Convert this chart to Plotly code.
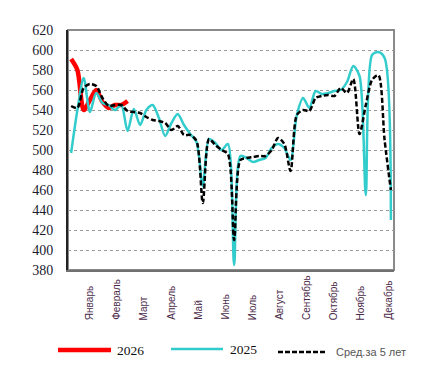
import plotly.graph_objects as go

weeks = list(range(1, 53))

y2026 = [591, 580, 540, 550, 560, 548, 542, 545, 545, 549]

y2025 = [497, 540, 572, 538, 557, 547, 545, 540, 545, 519,
         541, 525, 540, 545, 532, 514, 527, 536, 525, 516,
         508, 464, 511, 507, 500, 506, 385, 494, 492, 488,
         490, 492, 502, 506, 502, 490, 535, 552, 542, 559,
         556, 557, 559, 560, 568, 584, 574, 455, 595, 598,
         592, 430]

y5yr = [544, 542, 562, 566, 564, 552, 544, 545, 545, 539,
        538, 537, 533, 530, 529, 527, 520, 524, 515, 515,
        509, 447, 511, 505, 500, 496, 410, 490, 492, 493,
        494, 494, 500, 512, 506, 479, 535, 540, 539, 552,
        554, 555, 554, 562, 557, 571, 516, 545, 570, 575,
        510, 460]

months = ["Январь", "Февраль", "Март", "Апрель", "Май", "Июнь",
          "Июль", "Август", "Сентябрь", "Октябрь", "Ноябрь", "Декабрь"]
month_pos = [3.87 + 4.335 * i for i in range(12)]

yticks = list(range(380, 621, 20))

names = ["2026", "2025", "Сред.за 5 лет"]

SERIF = "Liberation Serif, Times New Roman, serif"
SANS = "Liberation Sans, Arial, sans-serif"

fig = go.Figure()
fig.add_trace(go.Scatter(x=weeks[:len(y2026)], y=y2026, mode="lines", name=names[0],
                         line=dict(color="#ff0000", width=4.5, shape="spline", smoothing=0.8)))
fig.add_trace(go.Scatter(x=weeks, y=y2025, mode="lines", name=names[1],
                         line=dict(color="#33cccc", width=2.5, shape="spline", smoothing=0.8)))
fig.add_trace(go.Scatter(x=weeks, y=y5yr, mode="lines", name=names[2],
                         line=dict(color="#000000", width=2.5, dash="5px,2.5px", shape="spline", smoothing=0.8)))

W, H = 433, 375
L, R, T, B = 60, 47, 22, 113
pw, ph = W - L - R, H - T - B

def px(x):
    return (x - L) / pw

def py(y):
    return (H - B - y) / ph

shapes = [
    dict(type="rect", xref="paper", yref="paper", x0=0, x1=1, y0=0, y1=1,
         line=dict(color="#8a8a8a", width=2), layer="below"),
]
annotations = []
for i, m in enumerate(months):
    annotations.append(dict(x=month_pos[i], xref="x", y=py(314), yref="paper",
                            text=m, textangle=-90, showarrow=False,
                            xanchor="center", yanchor="bottom",
                            font=dict(family=SANS, size=10, color="#4a2a48")))

# manual legend
leg = [
    (names[0], "#ff0000", 4.5, "solid", 50, 103, 342, 107, SERIF, 13.5, "#111"),
    (names[1], "#33cccc", 2.5, "solid", 163, 215, 341, 220, SERIF, 13.5, "#111"),
    (names[2], "#000000", 2.5, "5px,2px", 270, 319, 344, 326, SANS, 11, "#555"),
]
for name, col, wd, dash, x0, x1, yy, tx, fam, fs, fc in leg:
    shapes.append(dict(type="line", xref="paper", yref="paper", x0=px(x0), x1=px(x1),
                       y0=py(yy), y1=py(yy), line=dict(color=col, width=wd, dash=dash)))
    annotations.append(dict(x=px(tx), y=py(yy), xref="paper", yref="paper", text=name,
                            showarrow=False, xanchor="left", yanchor="middle",
                            font=dict(family=fam, size=fs, color=fc)))

fig.update_layout(
    width=W, height=H,
    margin=dict(l=L, r=R, t=T, b=B),
    paper_bgcolor="white", plot_bgcolor="white",
    font=dict(family=SERIF, size=14, color="#1c1c30"),
    showlegend=False,
    shapes=shapes, annotations=annotations,
    xaxis=dict(range=[0.5, 52.5], showticklabels=False, showgrid=False, zeroline=False,
               showline=True, linecolor="#707070", linewidth=2, ticks=""),
    yaxis=dict(range=[380, 620], tickvals=yticks, ticktext=[str(v) for v in yticks],
               showgrid=True, gridcolor="#9a9a9a", griddash="dot", gridwidth=1,
               zeroline=False, showline=True, linecolor="#222222", linewidth=2,
               ticks="", ticklabelstandoff=10,
               tickfont=dict(family=SERIF, size=14, color="#1c1c30")),
)

fig.write_html("out.html")
